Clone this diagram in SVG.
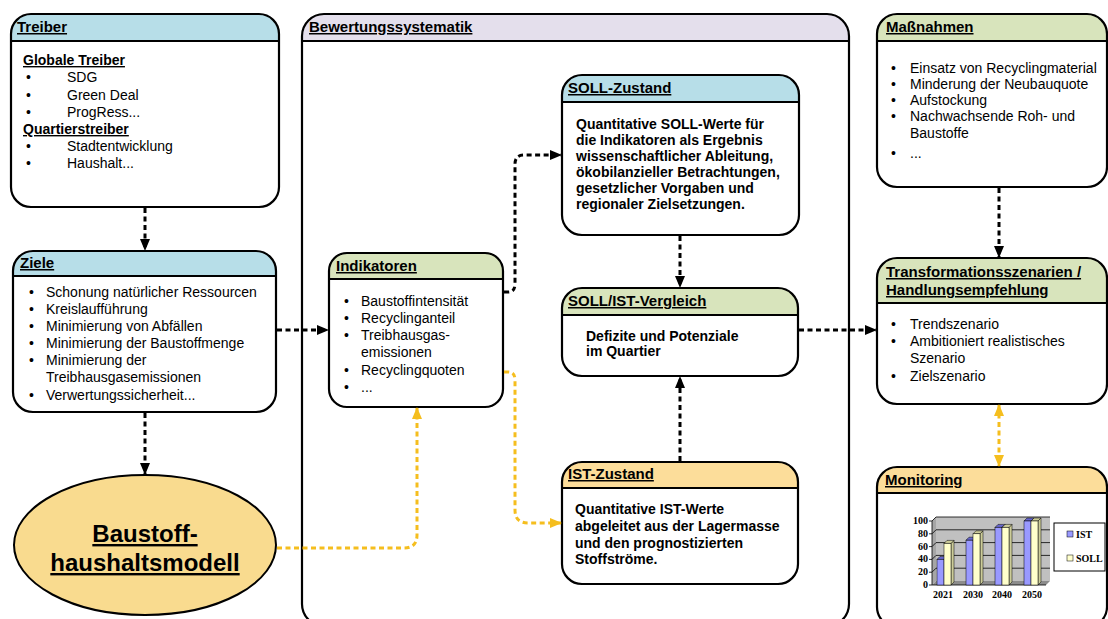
<svg xmlns="http://www.w3.org/2000/svg" width="1108" height="619" viewBox="0 0 1108 619">
<defs>
<style>
.box{fill:#fff;stroke:none}
.out{fill:none;stroke:#000;stroke-width:2.2}
.hl{stroke:#000;stroke-width:2.2}
.blue{fill:#B7DEE8}
.lav{fill:#E4DFEC}
.green{fill:#D8E4BC}
.orange{fill:#FCDD9A}
.ht{font-family:"Liberation Sans",Arial,sans-serif;font-size:15px;font-weight:bold;text-decoration:underline;fill:#000}
.t{font-family:"Liberation Sans",Arial,sans-serif;font-size:14px;fill:#000}
.tb{font-family:"Liberation Sans",Arial,sans-serif;font-size:14px;font-weight:bold;fill:#000}
.sub{font-family:"Liberation Sans",Arial,sans-serif;font-size:14px;font-weight:bold;text-decoration:underline;fill:#000}
.blk{fill:none;stroke:#000;stroke-width:3;stroke-dasharray:5 3.5}
.yel{fill:none;stroke:#F5BE1E;stroke-width:3;stroke-dasharray:5 3.5}
.ch{font-family:"Liberation Serif","Times New Roman",serif;font-size:10px;font-weight:bold;fill:#000}
.ist{fill:#9999FF;stroke:#000;stroke-width:0.5}
.istd{fill:#6666CC;stroke:#000;stroke-width:0.5}
.soll{fill:#FFFFCC;stroke:#000;stroke-width:0.5}
.solld{fill:#CCCC99;stroke:#000;stroke-width:0.5}
</style>
<marker id="ab" viewBox="0 0 12 10" refX="11" refY="5" markerWidth="12" markerHeight="10" markerUnits="userSpaceOnUse" orient="auto"><path d="M0,0 L12,5 L0,10 z" fill="#000"/></marker>
<marker id="ay" viewBox="0 0 12 10" refX="11" refY="5" markerWidth="12" markerHeight="10" markerUnits="userSpaceOnUse" orient="auto"><path d="M0,0 L12,5 L0,10 z" fill="#F5BE1E"/></marker>
<marker id="ays" viewBox="0 0 12 10" refX="1" refY="5" markerWidth="12" markerHeight="10" markerUnits="userSpaceOnUse" orient="auto"><path d="M12,0 L0,5 L12,10 z" fill="#F5BE1E"/></marker>
</defs>
<rect width="1108" height="619" fill="#fff"/>

<g id="bewertung">
<rect class="box" x="302" y="14" width="547" height="612" rx="22"/>
<path class="lav" d="M302,41 V36 A22,22 0 0 1 324,14 H827 A22,22 0 0 1 849,36 V41 Z"/>
<line class="hl" x1="302" y1="41" x2="849" y2="41"/>
<rect class="out" x="302" y="14" width="547" height="612" rx="22"/>
<text class="ht" x="309" y="32">Bewertungssystematik</text>
</g>

<g id="treiber">
<rect class="box" x="11" y="14" width="268" height="193" rx="20"/>
<path class="blue" d="M11,41 V34 A20,20 0 0 1 31,14 H259 A20,20 0 0 1 279,34 V41 Z"/>
<line class="hl" x1="11" y1="41" x2="279" y2="41"/>
<rect class="out" x="11" y="14" width="268" height="193" rx="20"/>
<text class="ht" x="17" y="32">Treiber</text>
<text class="sub" x="23" y="65">Globale Treiber</text>
<text class="t" x="26" y="82">•</text><text class="t" x="67" y="82">SDG</text>
<text class="t" x="26" y="100">•</text><text class="t" x="67" y="100">Green Deal</text>
<text class="t" x="26" y="117">•</text><text class="t" x="67" y="117">ProgRess...</text>
<text class="sub" x="23" y="134">Quartierstreiber</text>
<text class="t" x="26" y="151">•</text><text class="t" x="67" y="151">Stadtentwicklung</text>
<text class="t" x="26" y="168">•</text><text class="t" x="67" y="168">Haushalt...</text>
</g>

<g id="ziele">
<rect class="box" x="13" y="251" width="263" height="161" rx="20"/>
<path class="blue" d="M13,276 V271 A20,20 0 0 1 33,251 H256 A20,20 0 0 1 276,271 V276 Z"/>
<line class="hl" x1="13" y1="276" x2="276" y2="276"/>
<rect class="out" x="13" y="251" width="263" height="161" rx="20"/>
<text class="ht" x="20" y="268">Ziele</text>
<text class="t" x="29" y="297">•</text><text class="t" x="46" y="297">Schonung natürlicher Ressourcen</text>
<text class="t" x="29" y="314">•</text><text class="t" x="46" y="314">Kreislaufführung</text>
<text class="t" x="29" y="331">•</text><text class="t" x="46" y="331">Minimierung von Abfällen</text>
<text class="t" x="29" y="348">•</text><text class="t" x="46" y="348">Minimierung der Baustoffmenge</text>
<text class="t" x="29" y="365">•</text><text class="t" x="46" y="365">Minimierung der</text>
<text class="t" x="46" y="382">Treibhausgasemissionen</text>
<text class="t" x="29" y="400">•</text><text class="t" x="46" y="400">Verwertungssicherheit...</text>
</g>

<g id="baustoffhaushaltsmodell">
<ellipse cx="145" cy="545" rx="131" ry="70" fill="#F9DB8F" stroke="#000" stroke-width="2"/>
<text x="145" y="542" text-anchor="middle" font-family="'Liberation Sans',Arial,sans-serif" font-size="24" font-weight="bold" text-decoration="underline">Baustoff-</text>
<text x="145" y="571" text-anchor="middle" font-family="'Liberation Sans',Arial,sans-serif" font-size="24" font-weight="bold" text-decoration="underline">haushaltsmodell</text>
</g>

<g id="indikatoren">
<rect class="box" x="329" y="253" width="174" height="154" rx="18"/>
<path class="green" d="M329,279 V271 A18,18 0 0 1 347,253 H485 A18,18 0 0 1 503,271 V279 Z"/>
<line class="hl" x1="329" y1="279" x2="503" y2="279"/>
<rect class="out" x="329" y="253" width="174" height="154" rx="18"/>
<text class="ht" x="336" y="271">Indikatoren</text>
<text class="t" x="344" y="306">•</text><text class="t" x="361" y="306">Baustoffintensität</text>
<text class="t" x="344" y="323">•</text><text class="t" x="361" y="323">Recyclinganteil</text>
<text class="t" x="344" y="340">•</text><text class="t" x="361" y="340">Treibhausgas-</text>
<text class="t" x="361" y="357">emissionen</text>
<text class="t" x="344" y="375">•</text><text class="t" x="361" y="375">Recyclingquoten</text>
<text class="t" x="344" y="392">•</text><text class="t" x="361" y="392">...</text>
</g>

<g id="soll-zustand">
<rect class="box" x="562" y="75" width="237" height="160" rx="20"/>
<path class="blue" d="M562,102 V95 A20,20 0 0 1 582,75 H779 A20,20 0 0 1 799,95 V102 Z"/>
<line class="hl" x1="562" y1="102" x2="799" y2="102"/>
<rect class="out" x="562" y="75" width="237" height="160" rx="20"/>
<text class="ht" x="568" y="93">SOLL-Zustand</text>
<text class="tb" x="576" y="129" font-size="13.5">Quantitative SOLL-Werte für</text>
<text class="tb" x="576" y="145" font-size="13.5">die Indikatoren als Ergebnis</text>
<text class="tb" x="576" y="161" font-size="13.5">wissenschaftlicher Ableitung,</text>
<text class="tb" x="576" y="177" font-size="13.5">ökobilanzieller Betrachtungen,</text>
<text class="tb" x="576" y="193" font-size="13.5">gesetzlicher Vorgaben und</text>
<text class="tb" x="576" y="209" font-size="13.5">regionaler Zielsetzungen.</text>
</g>

<g id="soll-ist-vergleich">
<rect class="box" x="562" y="288" width="236" height="88" rx="20"/>
<path class="green" d="M562,315 V308 A20,20 0 0 1 582,288 H778 A20,20 0 0 1 798,308 V315 Z"/>
<line class="hl" x1="562" y1="315" x2="798" y2="315"/>
<rect class="out" x="562" y="288" width="236" height="88" rx="20"/>
<text class="ht" x="568" y="306">SOLL/IST-Vergleich</text>
<text class="tb" x="586" y="341">Defizite und Potenziale</text>
<text class="tb" x="586" y="356">im Quartier</text>
</g>

<g id="ist-zustand">
<rect class="box" x="562" y="462" width="236" height="122" rx="20"/>
<path class="orange" d="M562,488 V482 A20,20 0 0 1 582,462 H778 A20,20 0 0 1 798,482 V488 Z"/>
<line class="hl" x1="562" y1="488" x2="798" y2="488"/>
<rect class="out" x="562" y="462" width="236" height="122" rx="20"/>
<text class="ht" x="568" y="479">IST-Zustand</text>
<text class="tb" x="575" y="514">Quantitative IST-Werte</text>
<text class="tb" x="575" y="531">abgeleitet aus der Lagermasse</text>
<text class="tb" x="575" y="548">und den prognostizierten</text>
<text class="tb" x="575" y="564">Stoffströme.</text>
</g>

<g id="massnahmen">
<rect class="box" x="877" y="14" width="230" height="173" rx="20"/>
<path class="green" d="M877,41 V34 A20,20 0 0 1 897,14 H1087 A20,20 0 0 1 1107,34 V41 Z"/>
<line class="hl" x1="877" y1="41" x2="1107" y2="41"/>
<rect class="out" x="877" y="14" width="230" height="173" rx="20"/>
<text class="ht" x="886" y="32">Maßnahmen</text>
<text class="t" x="891" y="73">•</text><text class="t" x="910" y="73">Einsatz von Recyclingmaterial</text>
<text class="t" x="891" y="89">•</text><text class="t" x="910" y="89">Minderung der Neubauquote</text>
<text class="t" x="891" y="105">•</text><text class="t" x="910" y="105">Aufstockung</text>
<text class="t" x="891" y="121">•</text><text class="t" x="910" y="121">Nachwachsende Roh- und</text>
<text class="t" x="910" y="138">Baustoffe</text>
<text class="t" x="891" y="158">•</text><text class="t" x="910" y="158">...</text>
</g>

<g id="transformationsszenarien">
<rect class="box" x="877" y="258" width="230" height="146" rx="20"/>
<path class="green" d="M877,303 V278 A20,20 0 0 1 897,258 H1087 A20,20 0 0 1 1107,278 V303 Z"/>
<line class="hl" x1="877" y1="303" x2="1107" y2="303"/>
<rect class="out" x="877" y="258" width="230" height="146" rx="20"/>
<text class="ht" x="886" y="277">Transformationsszenarien /</text>
<text class="ht" x="886" y="295">Handlungsempfehlung</text>
<text class="t" x="891" y="329">•</text><text class="t" x="910" y="329">Trendszenario</text>
<text class="t" x="891" y="346">•</text><text class="t" x="910" y="346">Ambitioniert realistisches</text>
<text class="t" x="910" y="363">Szenario</text>
<text class="t" x="891" y="381">•</text><text class="t" x="910" y="381">Zielszenario</text>
</g>

<g id="monitoring">
<rect class="box" x="877" y="467" width="230" height="160" rx="20"/>
<path class="orange" d="M877,493 V487 A20,20 0 0 1 897,467 H1087 A20,20 0 0 1 1107,487 V493 Z"/>
<line class="hl" x1="877" y1="493" x2="1107" y2="493"/>
<rect class="out" x="877" y="467" width="230" height="160" rx="20"/>
<text class="ht" x="885" y="485">Monitoring</text>
<g id="chart">
<polygon points="932,521 936,517 936,581 932,585" fill="#A6A6A6"/>
<rect x="936" y="517" width="114" height="64" fill="#C0C0C0"/>
<polygon points="932,585 936,581 1050,581 1046,585" fill="#8C8C8C"/>
<g stroke="#000" stroke-width="0.8" fill="none">
<polyline points="932,572.2 936,568.2 1050,568.2"/>
<polyline points="932,559.4 936,555.4 1050,555.4"/>
<polyline points="932,546.6 936,542.6 1050,542.6"/>
<polyline points="932,533.8 936,529.8 1050,529.8"/>
<polyline points="932,521 936,517 1050,517"/>
<line x1="932" y1="521" x2="932" y2="585"/>
<line x1="932" y1="585" x2="1046" y2="585"/>
<line x1="929" y1="585" x2="932" y2="585"/>
<line x1="929" y1="572.2" x2="932" y2="572.2"/>
<line x1="929" y1="559.4" x2="932" y2="559.4"/>
<line x1="929" y1="546.6" x2="932" y2="546.6"/>
<line x1="929" y1="533.8" x2="932" y2="533.8"/>
<line x1="929" y1="521" x2="932" y2="521"/>
</g>
<g>
<polygon class="istd" points="944,559.4 947,556.4 947,582 944,585"/>
<polygon class="istd" points="937,559.4 940,556.4 947,556.4 944,559.4"/>
<rect class="ist" x="937" y="559.4" width="7" height="25.6"/>
<polygon class="solld" points="951,543.4 954,540.4 954,582 951,585"/>
<polygon class="solld" points="944,543.4 947,540.4 954,540.4 951,543.4"/>
<rect class="soll" x="944" y="543.4" width="7" height="41.6"/>

<polygon class="istd" points="973,540.2 976,537.2 976,582 973,585"/>
<polygon class="istd" points="966,540.2 969,537.2 976,537.2 973,540.2"/>
<rect class="ist" x="966" y="540.2" width="7" height="44.8"/>
<polygon class="solld" points="980,533.8 983,530.8 983,582 980,585"/>
<polygon class="solld" points="973,533.8 976,530.8 983,530.8 980,533.8"/>
<rect class="soll" x="973" y="533.8" width="7" height="51.2"/>

<polygon class="istd" points="1002,527.4 1005,524.4 1005,582 1002,585"/>
<polygon class="istd" points="995,527.4 998,524.4 1005,524.4 1002,527.4"/>
<rect class="ist" x="995" y="527.4" width="7" height="57.6"/>
<polygon class="solld" points="1009,527.4 1012,524.4 1012,582 1009,585"/>
<polygon class="solld" points="1002,527.4 1005,524.4 1012,524.4 1009,527.4"/>
<rect class="soll" x="1002" y="527.4" width="7" height="57.6"/>

<polygon class="istd" points="1031,521 1034,518 1034,582 1031,585"/>
<polygon class="istd" points="1024,521 1027,518 1034,518 1031,521"/>
<rect class="ist" x="1024" y="521" width="7" height="64"/>
<polygon class="solld" points="1038,521 1041,518 1041,582 1038,585"/>
<polygon class="solld" points="1031,521 1034,518 1041,518 1038,521"/>
<rect class="soll" x="1031" y="521" width="7" height="64"/>
</g>
<text class="ch" x="928" y="524" text-anchor="end">100</text>
<text class="ch" x="928" y="537" text-anchor="end">80</text>
<text class="ch" x="928" y="550" text-anchor="end">60</text>
<text class="ch" x="928" y="562" text-anchor="end">40</text>
<text class="ch" x="928" y="575" text-anchor="end">20</text>
<text class="ch" x="928" y="588" text-anchor="end">0</text>
<text class="ch" x="943" y="598" text-anchor="middle">2021</text>
<text class="ch" x="973" y="598" text-anchor="middle">2030</text>
<text class="ch" x="1002" y="598" text-anchor="middle">2040</text>
<text class="ch" x="1032" y="598" text-anchor="middle">2050</text>
<rect x="1054" y="523" width="51" height="48" fill="#fff" stroke="#000" stroke-width="1"/>
<rect class="ist" x="1067" y="531" width="6" height="6"/>
<text class="ch" x="1076" y="538">IST</text>
<rect class="soll" x="1067" y="555" width="6" height="6"/>
<text class="ch" x="1076" y="562">SOLL</text>
</g>
</g>

<g id="connectors">
<path class="blk" d="M145,208 V250" marker-end="url(#ab)"/>
<path class="blk" d="M145,413 V474" marker-end="url(#ab)"/>
<path class="blk" d="M277,330 H328" marker-end="url(#ab)"/>
<path class="blk" d="M504,292 H508 Q515,292 515,284 V164 Q515,155 524,155 H561" marker-end="url(#ab)"/>
<path class="blk" d="M680,236 V287" marker-end="url(#ab)"/>
<path class="blk" d="M680,461 V377" marker-end="url(#ab)"/>
<path class="blk" d="M799,330 H876" marker-end="url(#ab)"/>
<path class="blk" d="M999,188 V257" marker-end="url(#ab)"/>
<path class="yel" d="M504,372 H508 Q515,372 515,380 V510 Q515,523 528,523 H561" marker-end="url(#ay)"/>
<path class="yel" d="M277,548 H404 Q417,548 417,535 V408" marker-end="url(#ay)"/>
<path class="yel" d="M999,405 V466" marker-start="url(#ays)" marker-end="url(#ay)"/>
</g>
</svg>
